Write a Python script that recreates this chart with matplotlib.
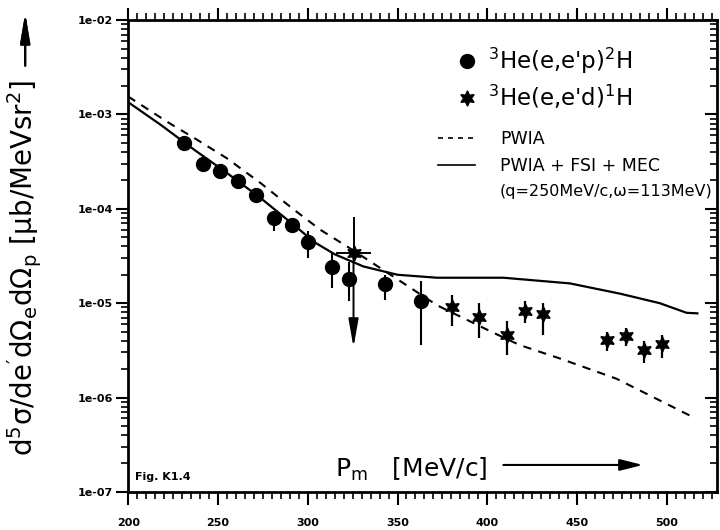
import numpy as np
import matplotlib
matplotlib.use("Agg")
import matplotlib.pyplot as plt
from matplotlib.lines import Line2D
from matplotlib.ticker import MultipleLocator, FixedLocator, FuncFormatter, LogLocator, NullFormatter

plt.rcParams['font.family'] = ['DejaVu Sans']
plt.rcParams['mathtext.default'] = 'regular'

# 3He(e,e'p)2H data: missing momentum, cross section, lower / upper error bounds
p_x = [231, 241.5, 251, 261, 271, 281, 291, 300, 313.5, 323, 343, 363]
p_y = [5.0e-4, 3.0e-4, 2.5e-4, 1.97e-4, 1.41e-4, 7.9e-5, 6.8e-5, 4.4e-5, 2.4e-5, 1.8e-5, 1.58e-5, 1.05e-5]
p_lo = [4.6e-4, 2.75e-4, 2.3e-4, 1.82e-4, 1.3e-4, 5.8e-5, 5.5e-5, 3.0e-5, 1.45e-5, 1.05e-5, 1.07e-5, 3.6e-6]
p_hi = [5.4e-4, 3.25e-4, 2.7e-4, 2.12e-4, 1.52e-4, 9.0e-5, 7.8e-5, 5.75e-5, 3.4e-5, 2.7e-5, 2.0e-5, 1.7e-5]

# 3He(e,e'd)1H data
d_x = [380.5, 395.5, 411, 421, 431, 466.5, 477, 487, 497.5]
d_y = [9.1e-6, 7.2e-6, 4.6e-6, 8.3e-6, 7.6e-6, 4.1e-6, 4.5e-6, 3.2e-6, 3.7e-6]
d_lo = [5.75e-6, 4.3e-6, 2.8e-6, 6.2e-6, 4.6e-6, 3.1e-6, 3.55e-6, 2.3e-6, 2.6e-6]
d_hi = [1.23e-5, 1.0e-5, 6.5e-6, 1.05e-5, 1.0e-5, 5.0e-6, 5.4e-6, 4.0e-6, 4.6e-6]

# (e,e'd) point with horizontal bar and downward limit arrow
lim_x = [325.5]
lim_y = [3.4e-5]
lim_xerr = [10]
lim_hi = [8.1e-5]
lim_lo = [3.4e-6]

# theory curves
pwia_x = [200, 222, 237, 255, 274, 292, 307, 322, 335, 347, 355, 372, 403, 418, 441, 472, 516]
pwia_y = [1.55e-3, 8.3e-4, 5.6e-4, 3.43e-4, 1.86e-4, 9.9e-5, 6.0e-5, 3.98e-5, 2.75e-5, 1.95e-5,
          1.55e-5, 9.5e-6, 4.9e-6, 3.6e-6, 2.57e-6, 1.58e-6, 6.0e-7]
full_x = [200, 218, 237, 255, 274, 292, 304, 315, 331, 350, 372, 409, 446, 474, 496, 511, 517]
full_y = [1.35e-3, 7.8e-4, 4.2e-4, 2.4e-4, 1.29e-4, 6.8e-5, 4.4e-5, 3.3e-5, 2.45e-5, 2.0e-5,
          1.86e-5, 1.86e-5, 1.62e-5, 1.26e-5, 1.0e-5, 7.9e-6, 7.8e-6]

x_ticks = [200, 250, 300, 350, 400, 450, 500]
y_ticks = [1e-7, 1e-6, 1e-5, 1e-4, 1e-3, 1e-2]

fig = plt.figure(figsize=(7.2, 5.3), dpi=100)
ax = fig.add_axes([0.178, 0.072, 0.818, 0.890])

ax.plot(pwia_x, pwia_y, color='k', lw=1.5, ls=(0, (4, 3.5)))
ax.plot(full_x, full_y, color='k', lw=1.6)

p_x = np.array(p_x); p_y = np.array(p_y)
ax.errorbar(p_x, p_y, yerr=[p_y - np.array(p_lo), np.array(p_hi) - p_y],
            fmt='o', ms=10, color='k', ecolor='k', elinewidth=1.5, capsize=0)

d_x = np.array(d_x); d_y = np.array(d_y)
ax.errorbar(d_x, d_y, yerr=[d_y - np.array(d_lo), np.array(d_hi) - d_y],
            fmt='none', ecolor='k', elinewidth=1.6, capsize=0)
ax.plot(d_x, d_y, ls='none', marker=(6, 1, 0), ms=11, color='k')

# limit point
ax.errorbar(lim_x, lim_y, xerr=lim_xerr, yerr=[[0], [lim_hi[0] - lim_y[0]]],
            fmt='none', ecolor='k', elinewidth=1.4, capsize=0)
ax.plot(lim_x, lim_y, ls='none', marker=(6, 1, 0), ms=11, color='k')
for x, y, lo in zip(lim_x, lim_y, lim_lo):
    ax.annotate('', xy=(x, lo), xytext=(x, y),
                arrowprops=dict(arrowstyle='-|>,head_length=1.7,head_width=0.3',
                                lw=1.4, color='k', mutation_scale=10, shrinkA=0, shrinkB=0))

ax.set_yscale('log')
ax.set_xlim(200, 528)
ax.set_ylim(1e-7, 1e-2)

ax.xaxis.set_major_locator(FixedLocator(x_ticks))
ax.xaxis.set_minor_locator(MultipleLocator(5))
ax.yaxis.set_major_locator(FixedLocator(y_ticks))
ax.yaxis.set_minor_locator(LogLocator(base=10, subs=np.arange(2, 10)))
ax.yaxis.set_minor_formatter(NullFormatter())
ax.yaxis.set_major_formatter(FuncFormatter(lambda v, pos: f"{v:.0e}"))

for lab in ax.get_xticklabels() + ax.get_yticklabels():
    lab.set_fontweight('bold')
ax.tick_params(axis='both', which='major', labelsize=8, width=1.5, direction='out')
ax.tick_params(axis='x', which='major', length=9, pad=10)
ax.tick_params(axis='y', which='major', length=9, pad=2)
ax.tick_params(axis='both', which='minor', length=5, width=1.2, direction='out')
ax.tick_params(axis='x', top=True, which='both')
ax.tick_params(axis='y', right=True, which='both')
ax.yaxis.set_tick_params(which='both', direction='out')
for t in ax.yaxis.get_major_ticks() + ax.yaxis.get_minor_ticks():
    t.tick2line.set_marker(0)   # right side ticks point inward
for sp in ax.spines.values():
    sp.set_linewidth(2)

# legend for data
h_p = Line2D([], [], ls='none', marker='o', ms=10, color='k')
h_d = Line2D([], [], ls='none', marker=(6, 1, 0), ms=11, color='k')
leg1 = ax.legend([h_p, h_d], [r"$^{3}$He(e,e'p)$^{2}$H", r"$^{3}$He(e,e'd)$^{1}$H"],
                 loc='upper left', bbox_to_anchor=(0.52, 0.99), frameon=False,
                 fontsize=16.5, handlelength=1.0, handletextpad=0.45, labelspacing=0.3)
ax.add_artist(leg1)

h_pw = Line2D([], [], color='k', lw=1.2, ls=(0, (3, 3)))
h_fu = Line2D([], [], color='k', lw=1.2)
h_no = Line2D([], [], ls='none')
leg2 = ax.legend([h_pw, h_fu, h_no], ["PWIA", "PWIA + FSI + MEC", "(q=250MeV/c,ω=113MeV)"],
                 loc='upper left', bbox_to_anchor=(0.5, 0.80), frameon=False,
                 fontsize=12.5, handlelength=2.1, handletextpad=1.45, labelspacing=0.5)
leg2.get_texts()[2].set_fontsize(11.5)

# axis titles drawn inside the figure like the original
ax.text(0.351, 0.032, r"P$_m$   [MeV/c]", transform=ax.transAxes, fontsize=18, va='baseline')
ax.annotate('', xy=(0.874, 0.057), xytext=(0.637, 0.057), xycoords='axes fraction',
            arrowprops=dict(arrowstyle='-|>,head_length=1.4,head_width=0.35',
                            lw=1.5, color='k', mutation_scale=10, shrinkA=0, shrinkB=0))
ax.text(0.012, 0.032, "Fig. K1.4", transform=ax.transAxes, fontsize=8, fontweight='bold',
        va='center')

fig.text(0.035, 0.494, r"d$^5\sigma$/de$'$d$\Omega_e$d$\Omega_p$ [$\mu$b/MeVsr$^2$]",
         rotation=90, fontsize=20, ha='center', va='center')
fig.add_artist(plt.annotate('', xy=(0.035, 0.975), xytext=(0.035, 0.876), xycoords='figure fraction',
               arrowprops=dict(arrowstyle='-|>,head_length=1.8,head_width=0.3',
                               lw=1.5, color='k', mutation_scale=10, shrinkA=0, shrinkB=0)))

fig.savefig("out.png", dpi=100)
